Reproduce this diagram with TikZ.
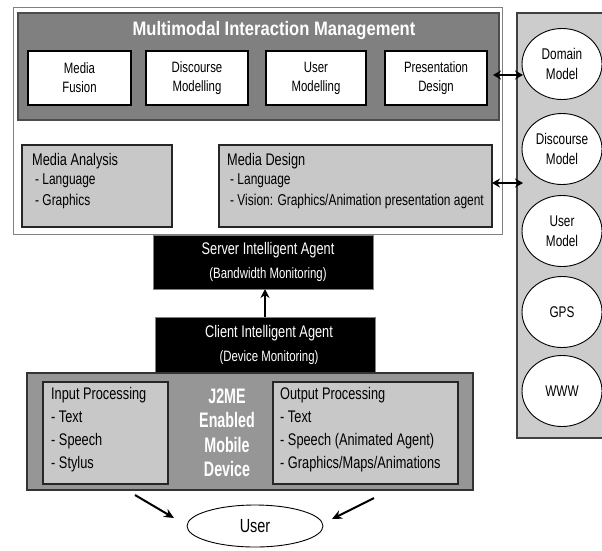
\documentclass[tikz,border=0pt]{standalone}
\usepackage{fontspec}
\setmainfont{Liberation Sans}[FakeStretch=0.76]
\newfontfamily\titlefont{Liberation Sans}[FakeStretch=0.85]
\newfontfamily\jfont{Liberation Sans}[FakeStretch=0.68]
\usetikzlibrary{shapes.geometric,arrows.meta}
\definecolor{darkg}{RGB}{128,128,128}
\definecolor{midg}{RGB}{150,150,150}
\definecolor{lightg}{RGB}{200,200,200}
\definecolor{panelg}{RGB}{204,204,204}
\tikzset{
  whitebox/.style={draw=black, fill=white, line width=1.3pt, inner sep=0pt, outer sep=0pt,
     minimum height=54pt, align=center, font={\fontsize{15}{19}\selectfont}},
  lightbox/.style={draw=black!85, fill=lightg, line width=1.6pt, inner sep=0pt, outer sep=0pt},
  blackbox/.style={fill=black, draw=darkg, line width=0.6pt, inner sep=0pt, outer sep=0pt,
     text=white, align=center, font={\fontsize{16.8}{23.5}\selectfont}},
  circ/.style={ellipse, draw=black, fill=white, line width=0.9pt, minimum width=80pt,
     minimum height=71pt, inner sep=0pt, align=center, font={\fontsize{15.5}{19.5}\selectfont}},
  txt/.style={anchor=north west, inner sep=0pt, align=left},
  dbl/.style={{Stealth[length=8pt,width=9pt]}-{Stealth[length=8pt,width=9pt]}, line width=2.2pt},
  uarr/.style={-{Stealth[length=10pt,width=9pt]}, line width=2pt},
}
\begin{document}
\begin{tikzpicture}[x=1pt,y=-1pt]
\useasboundingbox (0,0) rectangle (602,550);
\fill[white] (0,0) rectangle (602,550);

% outer white box
\node[draw=darkg, fill=white, line width=1pt, minimum width=489pt, minimum height=227pt,
  inner sep=0pt] (outer) at (257.5,120.5) {};
% MIM box
\node[draw=black!70, fill=darkg, line width=1.2pt, minimum width=481pt, minimum height=107pt,
  inner sep=0pt] (mim) at (258.5,66.5) {};
\node[text=white, font={\titlefont\bfseries\fontsize{19.5}{22}\selectfont}, inner sep=0pt]
  (mimtitle) at (274,30) {Multimodal Interaction Management};

\node[whitebox, minimum width=103pt] (fusion) at (79.5,78) {Media\\Fusion};
\node[whitebox, minimum width=102pt] (discmod) at (197,78) {Discourse\\Modelling};
\node[whitebox, minimum width=100pt] (usermod) at (316,78) {User\\Modelling};
\node[whitebox, minimum width=102pt] (presdes) at (436,78) {Presentation\\Design};

% Media analysis / design
\node[lightbox, minimum width=150pt, minimum height=82pt] (manal) at (97,186) {};
\node[txt, font={\fontsize{16.8}{20.5}\selectfont}] (manaltxt) at (32,153)
  {Media Analysis\\[-1pt]\hspace*{3pt}{\fontsize{15.7}{20.5}\selectfont - Language}\\\hspace*{3pt}{\fontsize{15.7}{20.5}\selectfont - Graphics}};
\node[lightbox, minimum width=273pt, minimum height=82pt] (mdes) at (355.5,186) {};
\node[txt, font={\fontsize{16.8}{20.5}\selectfont}] (mdestxt) at (227,153)
  {Media Design\\[-1pt]\hspace*{3pt}{\fontsize{15.7}{20.5}\selectfont - Language}\\\hspace*{3pt}{\fontsize{15.7}{20.5}\selectfont - Vision: Graphics/Animation presentation agent}};

% right panel
\fill[panelg] (517,13) rectangle (604,438);
\draw[black!75, line width=1.2pt] (604,13) -- (517,13) -- (517,438) -- (604,438);
\node[circ] (domain) at (562,64) {Domain\\Model};
\node[circ] (discourse) at (562,149) {Discourse\\Model};
\node[circ] (usermodel) at (562,231) {User\\Model};
\node[circ] (gps) at (562,312) {GPS};
\node[circ] (www) at (562,391) {WWW};

% double arrows
\coordinate (d1a) at (493,75);
\coordinate (d1b) at (523,75);
\coordinate (d2a) at (492,183);
\coordinate (d2b) at (523,183);
\draw[dbl] (d1a) -- (d1b);
\draw[dbl] (d2a) -- (d2b);

% agents
\node[blackbox, minimum width=220pt, minimum height=54pt] (server) at (263,262)
  {\hspace*{10pt}Server Intelligent Agent\\\hspace*{10pt}{\fontsize{15}{23.5}\selectfont(Bandwidth Monitoring)}};
\node[blackbox, minimum width=220pt, minimum height=56pt] (client) at (265,345)
  {\hspace*{8pt}Client Intelligent Agent\\\hspace*{8pt}{\fontsize{15}{23.5}\selectfont(Device Monitoring)}};
\draw[-{Stealth[length=9pt,width=9pt]}, line width=2pt] (client.north) -- (client.north |- server.south);

% device panel
\node[draw=black!80, fill=midg, line width=1.2pt, minimum width=446pt, minimum height=117pt,
  inner sep=0pt] (device) at (250,431.5) {};
\node[lightbox, minimum width=125pt, minimum height=102pt] (input) at (105.5,433) {};
\node[txt, font={\fontsize{16.8}{23}\selectfont}] (inputtxt) at (51,387)
  {Input Processing\\- Text\\- Speech\\- Stylus};
\node[lightbox, minimum width=185pt, minimum height=102pt] (output) at (365.5,433) {};
\node[txt, font={\fontsize{16.8}{23}\selectfont}] (outputtxt) at (280,387)
  {Output Processing\\- Text\\- Speech (Animated Agent)\\- Graphics/Maps/Animations};
\node[text=white, align=center, inner sep=0pt,
  font={\jfont\bfseries\fontsize{21}{24.5}\selectfont}] (j2me) at (227,433)
  {J2ME\\Enabled\\Mobile\\Device};

% user
\node[ellipse, draw=black, fill=white, line width=0.9pt, minimum width=136pt, minimum height=42pt,
  inner sep=0pt, font={\fontsize{19}{22}\selectfont}] (user) at (255,526) {User};
\coordinate (ua1) at (135,495);
\coordinate (ua2) at (174,518);
\coordinate (ub1) at (374,498);
\coordinate (ub2) at (332,519);
\draw[uarr] (ua1) -- (ua2);
\draw[uarr] (ub1) -- (ub2);
\end{tikzpicture}
\end{document}
